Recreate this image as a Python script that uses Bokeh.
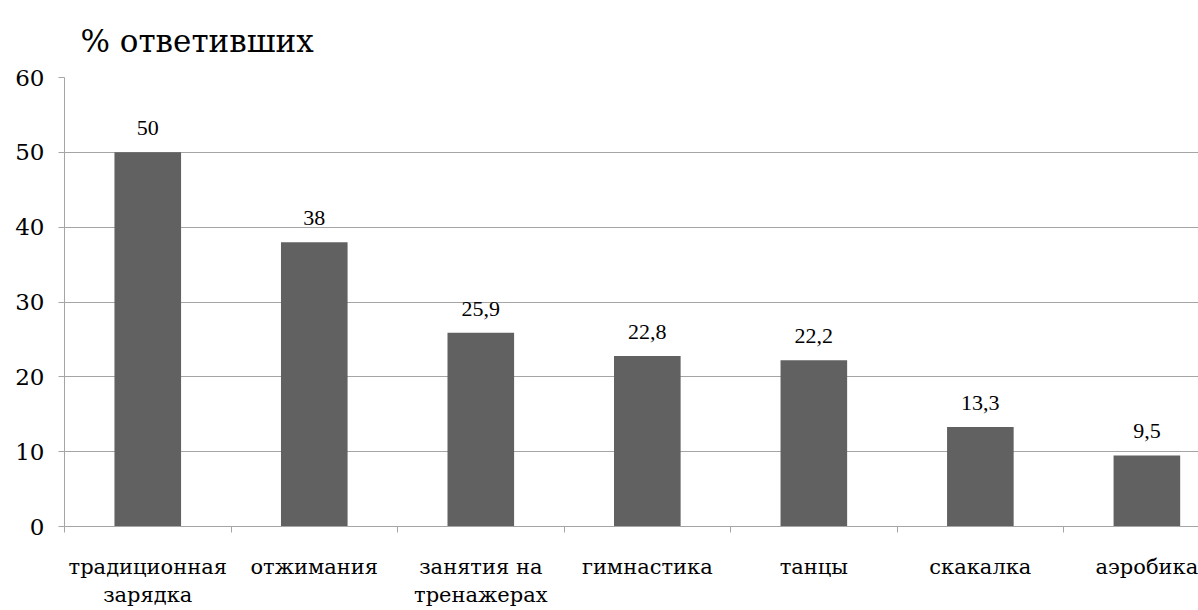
from bokeh.plotting import figure
from bokeh.models import (ColumnDataSource, Range1d, FixedTicker, LabelSet, Title)
from bokeh.embed import file_html
from bokeh.resources import INLINE

# Survey results: share of respondents per type of exercise
categories = ["традиционная\nзарядка", "отжимания", "занятия на\nтренажерах",
              "гимнастика", "танцы", "скакалка", "аэробика"]
values = [50, 38, 25.9, 22.8, 22.2, 13.3, 9.5]
y_ticks = [0, 10, 20, 30, 40, 50, 60]
y_title = "% ответивших"

FONT = "DejaVu Serif"
BAR = "#616161"
GRID = "#a5a5a5"

xs = [i + 0.5 for i in range(len(categories))]
labels = [("%g" % v).replace(".", ",") for v in values]
src = ColumnDataSource(dict(x=xs, top=values, label=labels))

p = figure(width=1198, height=610, output_backend="svg", toolbar_location=None,
           x_range=Range1d(0, 6.81), y_range=Range1d(0, 60),
           min_border_left=64, min_border_right=0, min_border_top=77,
           min_border_bottom=81)
p.outline_line_color = None
p.background_fill_color = "white"

p.vbar(x="x", top="top", width=0.4, source=src, fill_color=BAR, line_color=None)

p.add_layout(LabelSet(x="x", y="top", text="label", source=src,
                      text_align="center", text_baseline="alphabetic", y_offset=17,
                      text_font=FONT, text_font_size="22px", text_color="black"))

# axis caption above the top-left corner of the frame
t = Title(text=y_title, text_font=FONT, text_font_size="31px",
          text_font_style="normal", text_color="black", align="left", offset=16,
          standoff=38)
p.add_layout(t, "above")

ya = p.yaxis[0]
ya.ticker = FixedTicker(ticks=y_ticks)
ya.axis_line_color = GRID
ya.major_tick_line_color = GRID
ya.major_tick_out = 6
ya.major_tick_in = 0
ya.minor_tick_line_color = None
ya.major_label_standoff = 14
ya.major_label_text_font = FONT
ya.major_label_text_font_size = "23px"
ya.major_label_text_color = "black"

xa = p.xaxis[0]
xa.ticker = FixedTicker(ticks=xs, minor_ticks=list(range(len(categories) + 1)))
xa.major_label_overrides = {x: c for x, c in zip(xs, categories)}
xa.axis_line_color = GRID
xa.major_tick_line_color = None
xa.major_tick_out = 6
xa.major_tick_in = 0
xa.minor_tick_line_color = GRID
xa.minor_tick_out = 6
xa.minor_tick_in = 0
xa.major_label_standoff = 22
xa.major_label_text_font = FONT
xa.major_label_text_font_size = "21px"
xa.major_label_text_color = "black"
xa.major_label_text_line_height = 1.2

p.xgrid.grid_line_color = None
p.ygrid.grid_line_color = GRID
p.ygrid.grid_line_width = 1

open("out.html", "w").write(file_html(p, INLINE))
